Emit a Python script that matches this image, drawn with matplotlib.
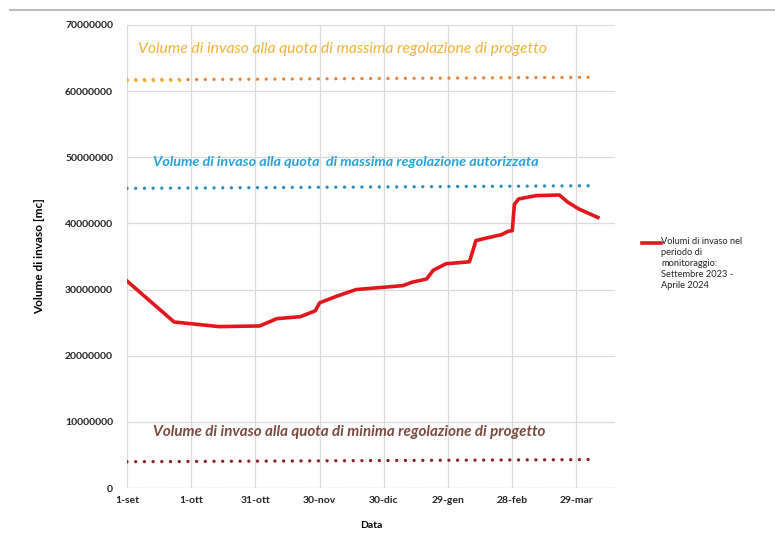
import matplotlib
matplotlib.use("Agg")
import matplotlib.pyplot as plt
import pandas as pd

plt.rcParams['font.family'] = ['Lato', 'DejaVu Sans']

# Reservoir volume during the monitoring period (m^3)
dates = ["2023-09-01", "2023-09-23", "2023-10-14", "2023-11-02", "2023-11-10",
         "2023-11-21", "2023-11-28", "2023-11-30", "2023-12-08", "2023-12-17",
         "2023-12-28", "2024-01-08", "2024-01-12", "2024-01-19", "2024-01-22",
         "2024-01-28", "2024-02-08", "2024-02-11", "2024-02-16", "2024-02-23",
         "2024-02-26", "2024-02-28", "2024-02-29", "2024-03-02", "2024-03-10",
         "2024-03-21", "2024-03-25", "2024-03-30", "2024-04-08"]
volumes = [31.3e6, 25.1e6, 24.4e6, 24.5e6, 25.6e6,
           25.9e6, 26.8e6, 28.0e6, 29.0e6, 30.0e6,
           30.3e6, 30.6e6, 31.1e6, 31.6e6, 32.9e6,
           33.9e6, 34.2e6, 37.4e6, 37.8e6, 38.3e6,
           38.8e6, 38.9e6, 42.9e6, 43.7e6, 44.2e6,
           44.3e6, 43.2e6, 42.2e6, 40.9e6]

# Reference volumes (start / end of the plotted span)
ref_dates = ["2023-09-01", "2024-04-06"]
vol_max_progetto = [61.7e6, 62.1e6]
vol_max_progetto_early_dates = ["2023-09-01", "2023-09-29"]
vol_max_progetto_early = [61.7e6, 61.7e6]
vol_max_autorizzata = [45.3e6, 45.7e6]
vol_min_progetto = [3.97e6, 4.3e6]

tick_dates = ["2023-09-01", "2023-10-01", "2023-10-31", "2023-11-30",
              "2023-12-30", "2024-01-29", "2024-02-28", "2024-03-29"]
tick_labels = ["1-set", "1-ott", "31-ott", "30-nov", "30-dic", "29-gen", "28-feb", "29-mar"]
y_ticks = [0, 10000000, 20000000, 30000000, 40000000, 50000000, 60000000, 70000000]

d = pd.to_datetime(dates)
rd = pd.to_datetime(ref_dates)
ed = pd.to_datetime(vol_max_progetto_early_dates)
td = pd.to_datetime(tick_dates)

fig = plt.figure(figsize=(7.75, 5.44), dpi=100)
ax = fig.add_axes([127/775, 1 - 488/544, (615 - 127)/775, (488 - 25)/544])

dot = dict(linestyle=(0, (0.01, 2.6)), dash_capstyle='round', linewidth=2.4)
ax.plot(rd, vol_max_progetto, color="#E5833A", **dot)
ax.plot(ed, vol_max_progetto_early, color="#F2B53C", **dot)
ax.plot(rd, vol_max_autorizzata, color="#2A8AC4", **dot)
ax.plot(rd, vol_min_progetto, color="#8E1F22", **dot)

ax.plot(d, volumes, color="#E3171B", linewidth=2.6, solid_joinstyle='round')

ax.set_ylim(0, 70000000)
ax.set_xlim(td[0], td[0] + pd.Timedelta(days=228))
ax.set_yticks(y_ticks)
ax.set_yticklabels([str(v) for v in y_ticks])
ax.set_xticks(td)
ax.set_xticklabels(tick_labels)
ax.tick_params(axis='both', length=0, labelsize=7.5, colors="#222222")
for lab in ax.get_xticklabels() + ax.get_yticklabels():
    lab.set_fontweight('bold')
ax.tick_params(axis='y', pad=10)
ax.tick_params(axis='x', pad=6)

ax.grid(True, color="#DADADA", linewidth=0.9)
ax.set_axisbelow(True)
for s in ax.spines.values():
    s.set_visible(False)
ax.axhline(0, color="#BBBBBB", linewidth=0.8, linestyle=(0, (6, 3)))

ax.set_ylabel("Volume di invaso [mc]", fontsize=8.5, fontweight='bold', labelpad=14)
ax.set_xlabel("Data", fontsize=7.5, fontweight='bold', labelpad=11)

t0 = td[0]
ax.text(t0 + pd.Timedelta(days=5), 66.3e6,
        "Volume di invaso alla quota di massima regolazione di progetto",
        color="#F2B33A", fontsize=11.3, fontstyle='italic', va='center')
ax.text(t0 + pd.Timedelta(days=12), 49.3e6,
        "Volume di invaso alla quota  di massima regolazione autorizzata",
        color="#2AA0DA", fontsize=10.4, fontstyle='italic', fontweight='bold', va='center')
ax.text(t0 + pd.Timedelta(days=12), 8.4e6,
        "Volume di invaso alla quota di minima regolazione di progetto",
        color="#7B4A3C", fontsize=10.9, fontstyle='italic', fontweight='bold', va='center')

# Legend entry for the monitored series
fig.add_artist(plt.Line2D([642/775, 661/775], [1 - 243/544] * 2, color="#E3171B", linewidth=2.6))
fig.text(661/775, 1 - 237/544,
         "Volumi di invaso nel\nperiodo di\nmonitoraggio:\nSettembre 2023 -\nAprile 2024",
         fontsize=6.7, va='top', ha='left', color="#222222", linespacing=1.3)

# Thin top border line of the page
fig.add_artist(plt.Line2D([10/775, 1.0], [1 - 10/544] * 2, color="#BBBBBB", linewidth=1.5))

fig.savefig("out.png", dpi=100)
